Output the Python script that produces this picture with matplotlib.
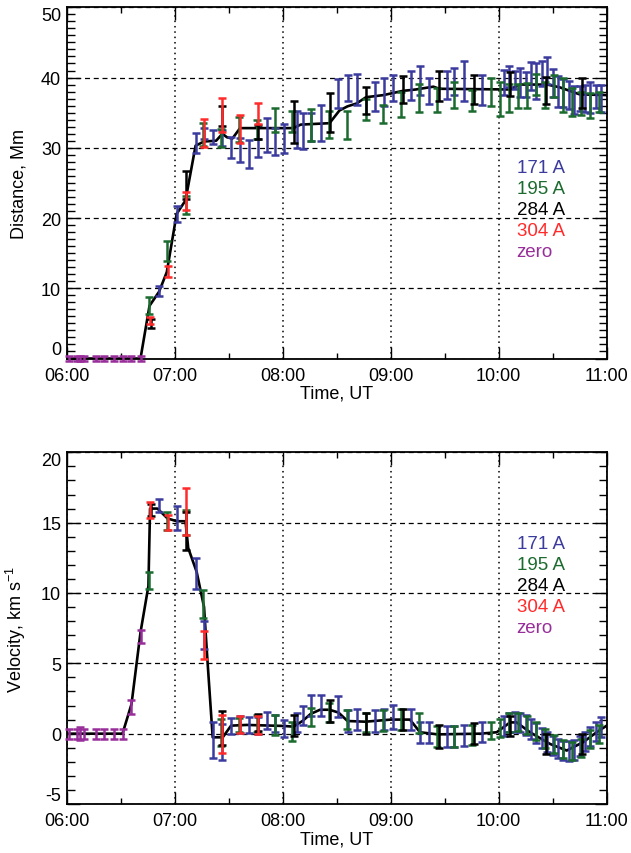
import matplotlib
matplotlib.use('Agg')
import matplotlib.pyplot as plt
from matplotlib.ticker import MultipleLocator

plt.rcParams['font.family'] = ['Liberation Sans', 'DejaVu Sans']
plt.rcParams['mathtext.default'] = 'regular'

# times are minutes after 06:00 UT
t_171 = [51.3, 61.1, 71.7, 76.3, 81.1, 86.5, 91.3, 96.3, 101.3, 106.5, 111.1, 115.7, 120.9,
         128.1, 131.4, 136.0, 141.1, 150.9, 156.1, 161.1, 171.3, 176.0, 181.5, 191.1, 196.3,
         201.5, 211.1, 215.4, 220.9, 230.6, 243, 246, 249, 252, 255, 258, 261, 264, 267, 270,
         273, 276, 279, 282, 285, 288, 291, 294, 297]
d_171 = [9.6, 20.6, 30.7, 32.0, 31.5, 31.4, 30.0, 29.7, 29.1, 30.0, 31.8, 30.9, 31.3,
         32.6, 32.4, 33.0, 33.5, 37.7, 38.5, 38.3, 37.3, 38.0, 38.5, 38.9, 39.6,
         38.1, 39.0, 39.4, 39.5, 38.2, 39.3, 40.1, 39.6, 39.3, 39.0, 40.2, 39.5, 40.6, 41.0, 39.2,
         38.0, 37.8, 37.5, 36.8, 37.0, 37.0, 37.1, 37.3, 37.0]
derr_171 = [0.7, 1.1, 1.4, 0.8, 1.0, 1.2, 1.5, 1.7, 2.0, 1.3, 2.4, 1.9, 2.1,
            2.7, 2.6, 2.0, 2.6, 2.1, 1.8, 2.2, 2.1, 2.0, 1.8, 2.1, 2.1,
            1.8, 2.0, 1.9, 2.9, 2.1, 1.8, 1.5, 1.3, 2.1, 1.8, 2.0, 2.5, 1.8, 1.9, 2.0,
            2.2, 2.0, 2.0, 2.0, 1.8, 1.9, 2.2, 1.6, 1.9]
v_171 = [16.2, 15.3, 11.4, 7.0, -0.45, -0.6, 0.55, 0.65, 0.6, 0.6, 0.95, 0.7, 0.35,
         0.8, 1.3, 2.0, 2.0, 1.9, 0.9, 1.0, 0.9, 1.0, 1.2, 1.0, 0.1,
         0.1, -0.2, -0.2, -0.15, 0.1, 0.55, 0.8, 0.85, 0.8, 0.6, 0.35, 0.05, -0.3, -0.6, -0.85,
         -1.05, -1.2, -1.25, -1.15, -0.9, -0.55, -0.2, 0.15, 0.45]
verr_171 = [0.45, 0.85, 1.1, 1.0, 1.25, 1.3, 0.55, 0.6, 0.55, 0.6, 0.6, 0.6, 0.6,
            0.7, 0.7, 0.75, 0.75, 0.75, 0.75, 0.75, 0.75, 0.75, 0.85, 0.75, 0.75,
            0.75, 0.75, 0.75, 0.75, 0.7, 0.7, 0.7, 0.7, 0.7, 0.7, 0.7, 0.7, 0.7, 0.7, 0.7,
            0.7, 0.7, 0.7, 0.7, 0.7, 0.7, 0.7, 0.7, 0.7]

t_195 = [45.7, 55.9, 66.1, 75.8, 85.7, 95.5, 106.0, 115.7, 125.4, 135.7, 145.9, 155.5, 166.3,
         175.9, 185.7, 195.7, 205.5, 215.4, 225.4, 235.6, 240.5, 245.5, 250.5, 255.5, 260.5,
         265.5, 270.5, 275.5, 280.5, 285.5, 290.5, 295.5]
d_195 = [7.6, 15.3, 21.9, 31.9, 31.4, 32.6, 32.6, 34.0, 33.8, 33.2, 33.3, 33.2, 35.5,
         34.8, 36.2, 37.1, 36.8, 37.5, 36.7, 38.0, 36.9, 37.1, 37.4, 37.4, 39.0,
         37.5, 38.8, 37.5, 36.5, 36.3, 36.0, 36.5]
derr_195 = [1.2, 1.4, 1.3, 1.6, 1.3, 1.8, 1.3, 1.7, 1.5, 2.3, 1.9, 2.0, 1.5,
            1.3, 1.8, 2.0, 1.7, 1.9, 1.5, 2.0, 2.4, 2.0, 1.7, 1.8, 1.5,
            1.8, 1.5, 2.4, 2.0, 1.6, 1.8, 1.4]
v_195 = [10.9, 15.1, 15.0, 9.2, 0.1, 0.6, 0.7, 0.6, 0.15, 1.2, 1.5, 1.0, 0.8,
         0.95, 1.0, 0.75, -0.2, -0.2, -0.1, 0.2, 0.4, 0.8, 0.85, 0.6, 0.2,
         -0.35, -0.75, -1.1, -1.25, -1.0, -0.4, 0.0]
verr_195 = [0.6, 0.65, 0.9, 1.0, 0.95, 0.5, 0.6, 0.7, 0.65, 0.65, 0.7, 0.7, 0.7,
            0.75, 0.75, 0.7, 0.75, 0.75, 0.7, 0.6, 0.65, 0.65, 0.65, 0.65, 0.65,
            0.65, 0.65, 0.65, 0.65, 0.65, 0.65, 0.65]

t_284 = [46.7, 66.3, 86.5, 106.5, 126.4, 146.0, 166.3, 186.7, 206.8, 226.5, 246.3, 266.3, 286.3]
d_284 = [5.0, 24.7, 34.5, 32.2, 33.7, 35.0, 36.7, 38.3, 38.8, 38.3, 39.1, 38.2, 37.8]
derr_284 = [0.6, 2.0, 1.4, 1.0, 3.0, 2.8, 1.9, 1.9, 2.2, 2.0, 1.7, 1.9, 2.2]
v_284 = [15.9, 14.4, 0.4, 0.8, 0.55, 1.6, 0.7, 1.0, -0.2, 0.0, 0.55, -0.75, -0.75]
verr_284 = [0.4, 1.35, 1.2, 0.6, 0.75, 0.8, 0.75, 0.75, 0.8, 0.75, 0.7, 0.7, 0.7]

t_304 = [46.3, 56.1, 66.1, 76.3, 86.5, 96.3, 106.5]
d_304 = [5.4, 12.4, 22.4, 32.1, 34.7, 32.7, 34.9]
derr_304 = [0.5, 0.8, 1.3, 2.0, 2.4, 2.0, 1.5]
v_304 = [15.9, 15.0, 15.8, 6.3, -0.05, 0.65, 0.6]
verr_304 = [0.55, 0.55, 1.65, 1.0, 1.35, 0.6, 0.65]

t_zero = [1, 5.5, 7.5, 9.5, 16.3, 21, 26, 31, 36, 41]
d_zero = [0, 0, 0, 0, 0, 0, 0, 0, 0, 0]
derr_zero = [0.3, 0.3, 0.3, 0.3, 0.3, 0.3, 0.3, 0.3, 0.3, 0.3]
v_zero = [0, 0, 0, 0, 0, 0, 0, 0, 1.9, 6.9]
verr_zero = [0.35, 0.35, 0.45, 0.35, 0.35, 0.35, 0.35, 0.35, 0.5, 0.45]

# smoothed curves (black lines)
t_dfit = [0, 41, 46, 51.3, 55.6, 61.1, 66, 71.6, 76.4, 83, 86.5, 89, 92, 96.3, 126, 130, 146,
          151.5, 156, 161, 166.3, 176, 186.7, 194, 203.7, 207, 246, 252, 267, 274, 285, 300]
dfit = [0, 0, 7.5, 9.5, 12.3, 20.6, 22.5, 30.3, 30.9, 31.0, 32.0, 31.5, 31.3, 32.8, 32.8, 33.3, 33.5,
        35.3, 35.9, 36.3, 37.2, 37.5, 38.1, 38.3, 38.7, 38.4, 38.3, 39.0, 39.0, 38.6, 37.6, 37.5]
t_vfit = [0, 31, 36, 41, 45.4, 46.3, 50.4, 56, 61.1, 66, 67.5, 72.2, 76.3, 78.2, 81.1, 86.7,
          91.3, 100, 120, 126, 131, 135.5, 140.7, 146, 151, 156, 166, 180, 190.7, 196.3, 206,
          230, 238.9, 246.3, 250, 257.4, 268.5, 277.8, 287, 294.4, 300]
vfit = [0, 0, 2.1, 7.2, 10.5, 16.0, 16.0, 15.3, 15.1, 15.1, 13.2, 11.5, 9.0, 5.2, -0.26, -0.26,
        0.57, 0.62, 0.55, 0.5, 0.9, 1.4, 1.7, 1.7, 1.5, 0.9, 0.85, 1.0, 1.0, 0.1, -0.05,
        0.0, 0.1, 0.8, 0.8, 0.1, -0.73, -1.2, -0.6, 0.1, 0.57]

channels = ['171 A', '195 A', '284 A', '304 A', 'zero']
colors = ['#3b3b9e', '#1b6a2e', 'black', '#ff2a2a', '#982e9a']
times = [t_171, t_195, t_284, t_304, t_zero]
dist = [(d_171, derr_171), (d_195, derr_195), (d_284, derr_284), (d_304, derr_304), (d_zero, derr_zero)]
vel = [(v_171, verr_171), (v_195, verr_195), (v_284, verr_284), (v_304, verr_304), (v_zero, verr_zero)]

time_labels = ['06:00', '07:00', '08:00', '09:00', '10:00', '11:00']


def hours(t):
    return [6 + m / 60.0 for m in t]


def panel(ax, tfit, yfit, data, ylim, ystep, ylabel):
    ax.plot(hours(tfit), yfit, color='black', lw=1.9, zorder=2)
    for t, (y, e), c in zip(times, data, colors):
        ax.errorbar(hours(t), y, yerr=e, fmt='none', ecolor=c, elinewidth=1.8,
                    capsize=2.6, capthick=1.8, clip_on=False, zorder=3)
    ax.set_xlim(6, 11)
    ax.set_ylim(*ylim)
    ax.set_xticks(range(6, 12), time_labels)
    yt = list(range(ylim[0], ylim[1] + 1, ystep))
    ax.set_yticks(yt, [str(v) for v in yt])
    ax.xaxis.set_minor_locator(MultipleLocator(0.5))
    ax.yaxis.set_minor_locator(MultipleLocator(1))
    ax.tick_params(which='both', direction='in', top=True, right=True, labelsize=13, width=1)
    ax.tick_params(axis='x', which='major', length=9, pad=6)
    ax.tick_params(axis='x', which='minor', length=4.5)
    ax.tick_params(axis='y', which='major', length=9, pad=4)
    ax.tick_params(axis='y', which='minor', length=6)
    ax.grid(axis='x', color='black', lw=1.1, linestyle=(0, (1, 2.5)))
    ax.grid(axis='y', color='black', lw=0.9, linestyle=(0, (4, 3)))
    for s in ax.spines.values():
        s.set_linewidth(1.3)
    labs = ax.get_yticklabels()
    labs[0].set_va('bottom')
    labs[-1].set_va('top')
    ax.set_xlabel('Time, UT', fontsize=13)
    ax.xaxis.set_label_coords(0.5, -0.075)
    ax.set_ylabel(ylabel, fontsize=13)
    ax.yaxis.set_label_coords(-0.072, 0.5)


fig = plt.figure(figsize=(6.31, 8.54), dpi=100)
ax1 = fig.add_axes([66.7 / 631, 1 - 359.5 / 854, 540 / 631, 351.2 / 854])
ax2 = fig.add_axes([66.7 / 631, 1 - 805 / 854, 540 / 631, 351.7 / 854])

panel(ax1, t_dfit, dfit, dist, (0, 50), 10, 'Distance, Mm')
panel(ax2, t_vfit, vfit, vel, (-5, 20), 5, 'Velocity, km s$^{-1}$')

for ax, y0 in [(ax1, 0.530), (ax2, 0.728)]:
    for i, (name, c) in enumerate(zip(channels, colors)):
        ax.text(0.833, y0 - 0.0598 * i, name, color=c, fontsize=13.5,
                transform=ax.transAxes, va='baseline', ha='left')

fig.savefig('out.png', dpi=100)
